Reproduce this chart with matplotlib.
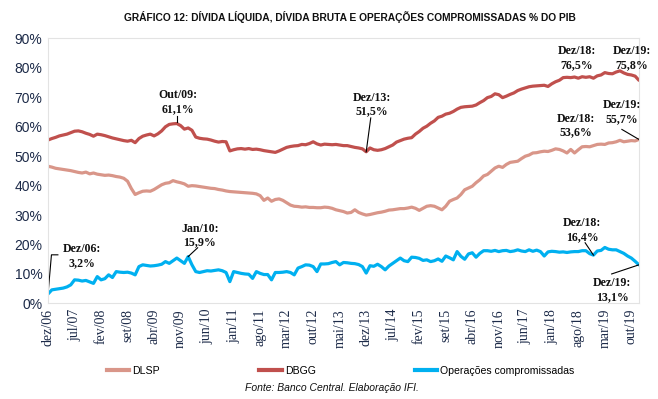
import numpy as np
import matplotlib
matplotlib.use("Agg")
import matplotlib.pyplot as plt
from matplotlib.lines import Line2D

# monthly series, dez/06 .. dez/19 (% do PIB)
dbgg = [55.5,
        56.0, 56.4, 56.9, 57.2, 57.5, 58.0, 58.5, 58.6, 58.3, 57.8, 57.4, 56.8,
        57.5, 57.3, 57.0, 56.6, 56.2, 55.9, 55.6, 55.3, 55.1, 55.4, 54.6, 56.0,
        56.8, 57.2, 57.5, 56.9, 57.6, 58.6, 60.0, 60.8, 61.0, 61.1, 60.4, 59.2,
        59.6, 58.8, 56.5, 56.1, 55.9, 55.8, 55.5, 55.1, 54.8, 55.0, 54.9, 51.8,
        52.2, 52.5, 52.6, 52.4, 52.6, 52.3, 52.4, 52.2, 51.9, 51.7, 51.5, 51.3,
        51.8, 52.4, 53.0, 53.3, 53.5, 53.6, 54.0, 53.9, 54.3, 54.9, 54.2, 53.8,
        54.1, 54.0, 53.9, 54.0, 53.8, 53.6, 53.6, 53.3, 53.0, 52.8, 52.5, 51.5,
        52.8, 52.2, 52.0, 52.2, 52.6, 53.2, 53.8, 54.8, 55.3, 55.8, 56.1, 56.3,
        57.5, 58.4, 59.5, 60.2, 61.2, 62.0, 63.2, 63.6, 64.3, 64.6, 65.2, 66.0,
        66.6, 66.8, 66.9, 67.0, 67.4, 68.2, 68.9, 69.9, 70.3, 71.2, 70.9, 69.9,
        70.4, 71.0, 71.5, 72.3, 72.8, 73.2, 73.6, 73.8, 73.9, 74.0, 74.1, 73.7,
        74.6, 75.3, 75.8, 76.7, 76.8, 76.7, 76.9, 76.5, 77.0, 76.8, 77.0, 76.5,
        77.3, 77.6, 78.4, 78.1, 78.0, 78.6, 79.0, 78.3, 77.8, 77.6, 77.2, 75.8]

dlsp = [46.6,
        46.3, 45.9, 45.7, 45.5, 45.3, 45.1, 44.8, 44.5, 44.3, 44.6, 44.0, 44.3,
        43.9, 43.7, 43.5, 43.6, 43.4, 43.1, 42.9, 42.5, 41.5, 39.0, 37.0, 37.6,
        38.1, 38.2, 38.1, 38.7, 39.5, 40.3, 40.8, 41.0, 41.7, 41.3, 41.0, 40.6,
        39.8, 40.0, 39.9, 39.7, 39.5, 39.3, 39.1, 39.0, 38.7, 38.5, 38.2, 38.0,
        37.9, 37.8, 37.7, 37.6, 37.5, 37.4, 37.2, 36.6, 35.0, 35.8, 34.7, 35.3,
        35.5, 35.0, 34.2, 33.4, 33.0, 32.9, 32.7, 32.8, 32.6, 32.6, 32.5, 32.5,
        32.7, 32.6, 32.3, 31.8, 31.5, 31.2, 30.7, 30.9, 31.8, 30.9, 30.4, 30.0,
        30.2, 30.5, 30.8, 31.0, 31.3, 31.7, 31.8, 32.0, 32.2, 32.2, 32.4, 32.7,
        32.3, 31.6, 32.3, 33.0, 33.2, 33.0, 32.4, 31.8, 33.0, 34.7, 35.3, 35.8,
        37.0, 38.6, 39.2, 39.8, 41.0, 42.0, 43.3, 43.8, 44.9, 46.0, 46.6, 46.2,
        47.2, 47.9, 48.1, 48.3, 49.2, 50.0, 50.4, 51.1, 51.2, 51.5, 51.7, 51.6,
        52.0, 52.5, 52.3, 51.8, 51.1, 52.3, 51.1, 52.2, 53.2, 53.3, 53.2, 53.6,
        54.0, 54.1, 54.0, 54.5, 54.6, 54.9, 55.4, 54.9, 55.1, 55.3, 55.2, 55.7]

compromissadas = [3.2,
        4.6, 4.8, 5.0, 5.2, 5.6, 6.3, 8.0, 7.9, 7.6, 7.8, 7.3, 6.8,
        9.1, 8.0, 8.4, 9.7, 8.8, 10.8, 10.6, 10.5, 10.6, 10.3, 9.7, 12.5,
        13.1, 12.9, 12.7, 12.8, 13.0, 13.3, 14.2, 13.6, 14.5, 15.4, 14.5, 13.6,
        15.9, 13.1, 10.8, 10.5, 10.8, 11.1, 11.0, 11.2, 11.4, 11.1, 10.5, 7.4,
        10.8, 10.5, 10.2, 10.0, 9.9, 8.5, 10.8, 10.2, 9.8, 9.8, 8.0, 10.5,
        10.5, 10.6, 10.8, 10.5, 9.7, 12.0, 12.5, 13.1, 13.0, 12.5, 10.8, 13.4,
        13.4, 13.5, 13.9, 14.2, 13.1, 13.9, 13.8, 13.6, 13.5, 13.2, 12.5, 10.3,
        12.8, 12.6, 13.3, 12.5, 11.4, 12.7, 13.6, 14.5, 15.4, 14.5, 14.2, 15.7,
        15.6, 15.3, 14.6, 14.8, 14.2, 14.5, 15.1, 14.3, 16.1, 15.5, 14.8, 17.6,
        16.0, 15.0, 16.8, 17.2, 15.7, 17.0, 17.9, 17.9, 17.7, 18.0, 17.6, 17.9,
        18.0, 17.6, 17.8, 18.2, 17.8, 17.6, 18.2, 17.7, 18.1, 17.6, 16.1, 17.5,
        17.7, 17.6, 17.4, 17.5, 17.3, 17.5, 17.6, 17.6, 17.9, 17.9, 16.9, 16.4,
        17.8, 18.0, 19.0, 18.4, 18.2, 18.2, 17.6, 17.0, 16.1, 15.4, 14.3, 13.1]

tick_labels = ['dez/06', 'jul/07', 'fev/08', 'set/08', 'abr/09', 'nov/09', 'jun/10',
               'jan/11', 'ago/11', 'mar/12', 'out/12', 'mai/13', 'dez/13', 'jul/14',
               'fev/15', 'set/15', 'abr/16', 'nov/16', 'jun/17', 'jan/18', 'ago/18',
               'mar/19', 'out/19']

c_dlsp = '#d99689'
c_dbgg = '#c0504d'
c_comp = '#00b0f0'
navy = '#1c2a48'

x = np.arange(len(dbgg))

fig = plt.figure(figsize=(6.58, 3.99), dpi=100)
ax = fig.add_axes([0.073, 0.2396, 0.898, 0.664])

ax.plot(x, dlsp, color=c_dlsp, lw=2.3, solid_capstyle='round')
ax.plot(x, dbgg, color=c_dbgg, lw=2.3, solid_capstyle='round')
ax.plot(x, compromissadas, color=c_comp, lw=2.3, solid_capstyle='round')

ax.set_xlim(0, len(dbgg) - 1)
ax.set_ylim(0, 90)
ax.set_yticks(range(0, 91, 10))
ax.set_yticklabels([f'{v}%' for v in range(0, 91, 10)], fontsize=10,
                   family='Liberation Sans', color=navy)
ax.set_xticks(x[::7])
ax.set_xticklabels(tick_labels, rotation=90, fontsize=10, family='Liberation Serif',
                   color=navy)
ax.tick_params(length=0, pad=4)
for s in ax.spines.values():
    s.set_color('#e3e3e3')
    s.set_linewidth(0.8)


def pct(v):
    return f'{v:.1f}%'.replace('.', ',')


# annotations
ann = dict(ha='center', va='center', fontsize=8.6, fontweight='bold',
           family='Liberation Serif', color='#111111', linespacing=1.2)
lead = dict(color='black', lw=0.8)

i = 0
ax.text(9.0, 16.1, 'Dez/06:\n' + pct(compromissadas[i]), **ann)
ax.plot([x[i], 0.9, 2.6], [compromissadas[i], 16.5, 16.5], **lead)

i = 34
ax.text(34.3, 68.4, 'Out/09:\n' + pct(dbgg[i]), **ann)
ax.plot([x[i], x[i]], [dbgg[i] + 0.6, 63.8], **lead)

i = 37
ax.text(40.1, 23.0, 'Jan/10:\n' + pct(compromissadas[i]), **ann)
ax.plot([x[i], 39.5], [compromissadas[i], 18.9], **lead)

i = 84
ax.text(85.5, 67.6, 'Dez/13:\n' + pct(dbgg[i]), **ann)
ax.plot([x[i], 85.2], [dbgg[i], 63.0], **lead)

i = 144
ax.text(139.6, 83.3, 'Dez/18:\n' + pct(dbgg[i]), **ann)
ax.text(139.4, 60.4, 'Dez/18:\n' + pct(dlsp[i]), **ann)
ax.text(141.0, 24.8, 'Dez/18:\n' + pct(compromissadas[i]), **ann)
ax.plot([141.8, x[i]], [20.6, compromissadas[i]], **lead)

i = 156
ax.text(154.2, 83.3, 'Dez/19:\n' + pct(dbgg[i]), **ann)
ax.text(151.5, 64.9, 'Dez/19:\n' + pct(dlsp[i]), **ann)
ax.plot([151.5, x[i]], [59.1, dlsp[i]], **lead)
ax.text(148.9, 4.6, 'Dez/19:\n' + pct(compromissadas[i]), **ann)
ax.plot([148.8, x[i]], [10.0, compromissadas[i]], **lead)

fig.text(0.532, 0.957, 'GRÁFICO 12: DÍVIDA LÍQUIDA, DÍVIDA BRUTA E OPERAÇÕES COMPROMISSADAS % DO PIB',
         ha='center', va='center', fontsize=7.4, fontweight='bold',
         family='Liberation Sans', color='#111111')

handles = [Line2D([], [], color=c_dlsp, lw=3),
           Line2D([], [], color=c_dbgg, lw=3),
           Line2D([], [], color=c_comp, lw=3)]
fig.legend(handles, ['DLSP', 'DBGG', 'Operações compromissadas'], ncol=3,
           loc='center', bbox_to_anchor=(0.518, 0.070), frameon=False,
           prop={'family': 'Liberation Sans', 'size': 7.6},
           handlelength=2.1, handletextpad=0.3, columnspacing=9.4)

fig.text(0.505, 0.027, 'Fonte: Banco Central. Elaboração IFI.', ha='center', va='center',
         fontsize=7.5, style='italic', family='Liberation Sans', color='#111111')

fig.savefig('out.png', dpi=100)
